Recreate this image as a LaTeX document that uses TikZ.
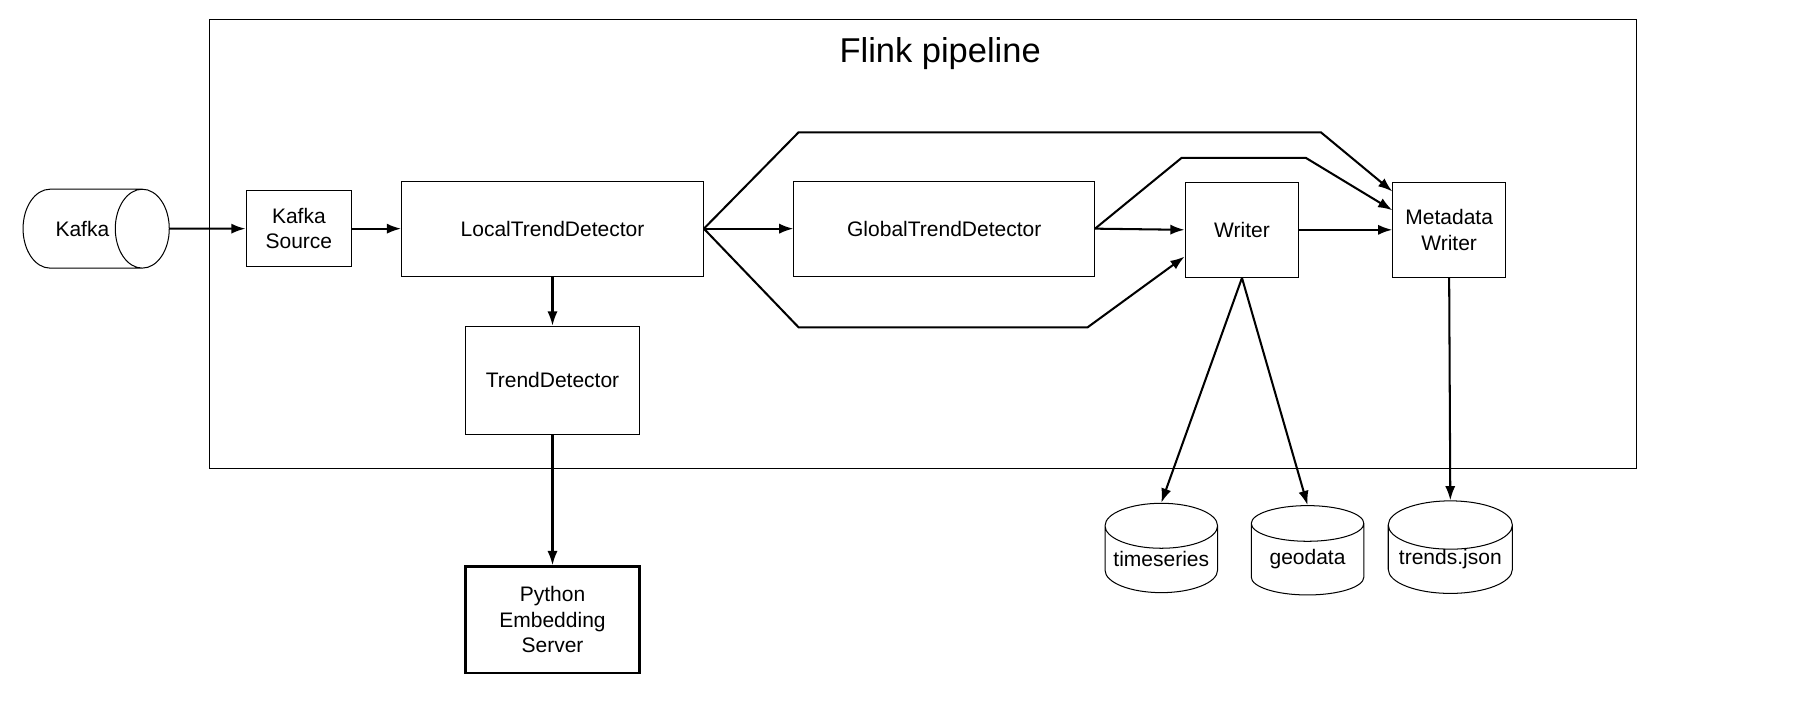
\documentclass[tikz,border=0pt]{standalone}
\usepackage{fontspec}
\setmainfont{Liberation Sans}
\usetikzlibrary{shapes.geometric,arrows.meta,positioning}
\tikzset{
  box/.style={draw, rectangle, line width=0.5pt, inner sep=0pt, align=center},
  store/.style={draw, cylinder, shape border rotate=90, shape aspect=0.47, line width=0.5pt, inner sep=0pt},
  flow/.style={->, >={Latex[length=7pt,width=5pt]}, line width=1pt},
}
\begin{document}
\begin{tikzpicture}[x=0.02cm, y=-0.02cm, font=\fontsize{10.3}{12.5}\selectfont]
\useasboundingbox (0,0) rectangle (1568,608);

% pipeline frame
\node[draw, line width=0.5pt, minimum width=24.6cm, minimum height=7.74cm, inner sep=0pt] (flink) at (795,210.5) {};
\node[font=\fontsize{16.9}{20}\selectfont] (title) at (810,46) {Flink pipeline};

% source
\node[draw, cylinder, shape aspect=3.5, line width=0.5pt, inner sep=0pt, minimum width=1.36cm, minimum height=2.52cm] (kafka) at (71,197) {Kafka};
\node[box, minimum width=1.82cm, minimum height=1.32cm] (ksrc) at (257.5,197) {Kafka\\Source};

% operators
\node[box, minimum width=5.2cm, minimum height=1.64cm] (ltd) at (476,197) {LocalTrendDetector};
\node[box, minimum width=5.18cm, minimum height=1.64cm] (gtd) at (813.5,197) {GlobalTrendDetector};
\node[box, minimum width=1.96cm, minimum height=1.64cm] (writer) at (1070,198) {Writer};
\node[box, minimum width=1.94cm, minimum height=1.64cm] (mwriter) at (1248.5,198) {Metadata\\Writer};
\node[box, minimum width=3cm, minimum height=1.86cm] (trend) at (476,327.5) {TrendDetector};
\node[box, line width=1.2pt, minimum width=3cm, minimum height=1.84cm] (python) at (476,534) {Python\\Embedding\\Server};

% sinks
\node[store, minimum width=1.94cm, minimum height=1.54cm] (ts) at (1000.5,482) {timeseries};
\node[store, minimum width=1.94cm, minimum height=1.54cm] (geo) at (1126.5,482) {geodata};
\node[store, minimum width=2.14cm, minimum height=1.54cm] (tj) at (1249.5,482) {trends.json};

% bends
\coordinate (up1) at (688,114);
\coordinate (up2) at (1138,114);
\coordinate (mid1) at (1018,136);
\coordinate (mid2) at (1125,136);
\coordinate (dn1) at (688,282);
\coordinate (dn2) at (937,282);

\draw[flow] (kafka.east) -- (ksrc.west);
\draw[flow] (ksrc.east) -- (ltd.west);
\draw[flow] (ltd.east) -- (gtd.west);
\draw[flow] (ltd.east) -- (up1) -- (up2) -- (mwriter.146);
\draw[flow] (ltd.east) -- (dn1) -- (dn2) -- (writer.205);
\draw[flow] (gtd.east) -- (writer.west);
\draw[flow] (gtd.east) -- (mid1) -- (mid2) -- (mwriter.161);
\draw[flow] (writer.east) -- (mwriter.west);
\draw[flow] (ltd.south) -- (trend.north);
\draw[flow] (trend.south) -- (python.north);
\draw[flow] (writer.south) -- (ts.north);
\draw[flow] (writer.south) -- (geo.north);
\draw[flow] (mwriter.south) -- (tj.north);

\end{tikzpicture}
\end{document}
